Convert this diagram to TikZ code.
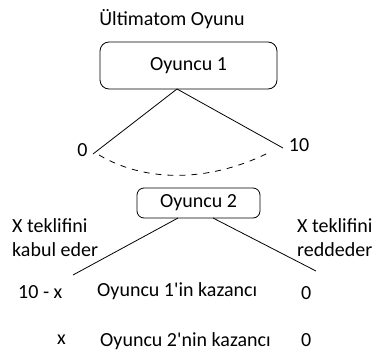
\documentclass[tikz,border=0pt]{standalone}
\usepackage{fontspec}
\setmainfont{Carlito}[Ligatures=TeXOff]
\begin{document}
\begin{tikzpicture}[x=1pt,y=-1pt,
  txt/.style={inner sep=0pt,font=\fontsize{20}{23}\selectfont},
  lbl/.style={txt,anchor=west},
  player/.style={draw,rounded corners=9pt,line width=0.8pt,inner sep=0pt,font=\fontsize{20}{23}\selectfont},
  branch/.style={line width=0.8pt}]
\useasboundingbox (0,0) rectangle (379,356);
\node[txt] (title) at (172,19) {Ültimatom Oyunu};
\node[player,minimum width=177pt,minimum height=47pt] (p1) at (188.5,65.5) {Oyuncu 1};
\coordinate (apex) at (177,89);
\node[txt] (zero) at (82.5,150) {0};
\node[txt] (ten) at (299,145.5) {10};
\coordinate (l1) at (93,154);
\coordinate (r1) at (283,148);
\draw[branch] (apex) -- (l1);
\draw[branch] (apex) -- (r1);
\draw[branch,dash pattern=on 6pt off 6pt] (99,155) .. controls (150,185) and (215,180) .. (270,152);
\node[player,rounded corners=7pt,minimum width=123pt,minimum height=30pt] (p2) at (198.5,203) {Oyuncu 2};
\coordinate (al) at (73,275);
\coordinate (ar) at (316,271);
\draw[branch] (178,218) -- (al);
\draw[branch] (213,218) -- (ar);
\node[lbl] (acc1) at (12,226) {X teklifini};
\node[lbl] (acc2) at (12,250) {kabul eder};
\node[lbl] (rej1) at (297,226) {X teklifini};
\node[lbl] (rej2) at (297,250) {reddeder};
\node[lbl] (a1) at (18,292) {10 - x};
\node[lbl] (k1) at (97,291) {Oyuncu 1'in kazancı};
\node[lbl] (z1) at (301,293) {0};
\node[lbl] (a2) at (57,340) {x};
\node[lbl] (k2) at (100,341) {Oyuncu 2'nin kazancı};
\node[lbl] (z2) at (301,340) {0};
\end{tikzpicture}
\end{document}
